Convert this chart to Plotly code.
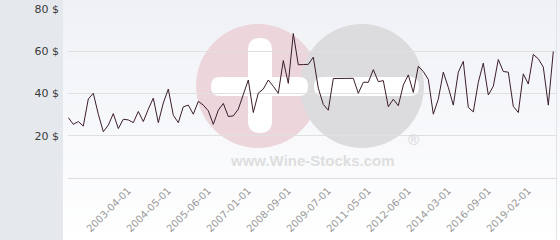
import plotly.graph_objects as go

dates = [
    "2001-07-01", "2001-09-01", "2001-10-01", "2001-12-01", "2002-01-01", "2002-03-01",
    "2002-04-01", "2002-06-01", "2002-08-01", "2002-09-01", "2002-11-01", "2003-01-01",
    "2003-04-01", "2003-05-01", "2003-07-01", "2003-08-01", "2003-10-01", "2003-11-01",
    "2004-01-01", "2004-03-01", "2004-05-01", "2004-06-01", "2004-08-01", "2004-09-01",
    "2004-11-01", "2005-01-01", "2005-02-01", "2005-04-01", "2005-06-01", "2005-08-01",
    "2005-11-01", "2006-01-01", "2006-03-01", "2006-05-01", "2006-08-01", "2006-10-01",
    "2007-01-01", "2007-03-01", "2007-06-01", "2007-08-01", "2007-11-01", "2008-01-01",
    "2008-04-01", "2008-06-01", "2008-09-01", "2008-10-01", "2008-11-01", "2009-01-01",
    "2009-02-01", "2009-03-01", "2009-04-01", "2009-06-01", "2009-07-01", "2009-10-01",
    "2010-01-01", "2010-03-01", "2010-06-01", "2010-09-01", "2010-11-01", "2011-02-01",
    "2011-05-01", "2011-07-01", "2011-08-01", "2011-10-01", "2011-12-01", "2012-01-01",
    "2012-03-01", "2012-04-01", "2012-06-01", "2012-09-01", "2012-12-01", "2013-02-01",
    "2013-05-01", "2013-07-01", "2013-10-01", "2013-12-01", "2014-03-01", "2014-07-01",
    "2014-11-01", "2015-03-01", "2015-06-01", "2015-10-01", "2016-02-01", "2016-05-01",
    "2016-09-01", "2017-01-01", "2017-04-01", "2017-08-01", "2017-12-01", "2018-03-01",
    "2018-07-01", "2018-10-01", "2019-02-01", "2019-06-01", "2019-10-01", "2020-01-01",
    "2020-05-01", "2020-09-01",
]

prices = [
    28.6, 25.4, 26.7, 24.6, 37.4, 40.1, 30.2, 21.9, 25.0, 30.5,
    23.4, 27.8, 27.5, 26.2, 31.5, 26.7, 32.6, 37.8, 26.2, 35.5,
    42.1, 29.7, 26.2, 33.7, 34.5, 30.2, 36.3, 34.5, 31.8, 25.4,
    32.1, 35.3, 29.1, 29.4, 32.6, 39.0, 46.4, 31.0, 40.2, 42.1,
    46.4, 43.4, 40.1, 55.6, 44.8, 68.4, 53.6, 53.7, 53.8,
    57.2, 42.5, 34.8, 32.1, 47.1, 47.2, 47.2, 47.2, 47.2, 40.1,
    45.3, 45.3, 51.3, 45.6, 46.1, 33.7, 37.3, 34.2, 44.0, 48.8,
    40.5, 52.9, 50.4, 46.7, 30.2, 37.3, 50.1, 42.9, 34.5, 50.1,
    55.2, 33.4, 31.3, 45.3, 54.4, 39.3, 43.4, 56.1, 50.4, 50.1,
    33.9, 31.0, 49.3, 44.5, 58.5, 56.4, 52.5, 34.5, 59.9,
]

tick_labels = [
    "2003-04-01", "2004-05-01", "2005-06-01", "2007-01-01", "2008-09-01", "2009-07-01",
    "2011-05-01", "2012-06-01", "2014-03-01", "2016-09-01", "2019-02-01",
]
y_ticks = [20, 40, 60, 80]
y_tick_text = ["20 $", "40 $", "60 $", "80 $"]

W, H = 560, 240
L, R, T, B = 68, 4, 9, 62
PW = W - L - R
PH = H - T - B


def px(x):
    return (x - L) / PW


def py(y):
    return (H - B - y) / PH


shapes = []
# vertical background gradient (top bluish -> bottom white)
n = 24
top_c = (239, 241, 246)
bot_c = (255, 255, 255)
for i in range(n):
    y0 = H * i / n
    y1 = H * (i + 1) / n
    t = (i + 0.5) / n
    c = tuple(int(round(top_c[k] + (bot_c[k] - top_c[k]) * t)) for k in range(3))
    shapes.append(dict(type="rect", xref="paper", yref="paper", x0=px(63), x1=px(W),
                       y0=py(y1), y1=py(y0), fillcolor="rgb(%d,%d,%d)" % c,
                       line=dict(width=0), layer="below"))
# left panel
shapes.append(dict(type="rect", xref="paper", yref="paper", x0=px(0), x1=px(63),
                   y0=py(H), y1=py(0), fillcolor="#e5e9ed", line=dict(width=0), layer="below"))
# right border line
shapes.append(dict(type="line", xref="paper", yref="paper", x0=px(556.5), x1=px(556.5),
                   y0=py(H), y1=py(0), line=dict(color="#e2e4e8", width=1), layer="below"))

# watermark circles
shapes.append(dict(type="circle", xref="paper", yref="paper", x0=px(196), x1=px(320),
                   y0=py(148), y1=py(24), fillcolor="#ecd5db", line=dict(width=0), layer="below"))
shapes.append(dict(type="circle", xref="paper", yref="paper", x0=px(300), x1=px(424),
                   y0=py(148), y1=py(24), fillcolor="#dcdcde", line=dict(width=0), layer="below"))


def rrect(x0, y0, x1, y1, r):
    pts = [
        (x0 + r, y0), (x1 - r, y0), (x1, y0), (x1, y0 + r), (x1, y1 - r), (x1, y1),
        (x1 - r, y1), (x0 + r, y1), (x0, y1), (x0, y1 - r), (x0, y0 + r), (x0, y0), (x0 + r, y0),
    ]
    P = [(px(a), py(b)) for a, b in pts]
    s = "M %f,%f L %f,%f Q %f,%f %f,%f L %f,%f Q %f,%f %f,%f L %f,%f Q %f,%f %f,%f L %f,%f Q %f,%f %f,%f Z" % (
        P[0] + P[1] + P[2] + P[3] + P[4] + P[5] + P[6] + P[7] + P[8] + P[9] + P[10] + P[11] + P[12])
    return s


for (a, b, c, d, r) in [(248, 38, 272, 133, 12), (211, 77, 308, 96, 9), (314, 77, 419, 96, 9)]:
    shapes.append(dict(type="path", xref="paper", yref="paper", path=rrect(a, b, c, d, r),
                       fillcolor="#ffffff", line=dict(width=0), layer="below"))

annotations = [
    dict(text="<b>www.Wine-Stocks.com</b>", xref="paper", yref="paper", x=px(312), y=py(160.5),
         showarrow=False, font=dict(family="Liberation Sans, Arial", size=15, color="#dedede"),
         xanchor="center", yanchor="middle"),
    dict(text="®", xref="paper", yref="paper", x=px(413), y=py(139), showarrow=False,
         font=dict(family="Liberation Sans, Arial", size=15, color="#d6d6d8"),
         xanchor="center", yanchor="middle"),
]

fig = go.Figure()
fig.add_trace(go.Scatter(
    x=dates, y=prices, mode="lines",
    line=dict(color="#3b1d2c", width=1),
    hoverinfo="skip", showlegend=False,
))

fig.update_layout(
    width=W, height=H,
    margin=dict(l=L, r=R, t=T, b=B, pad=0, autoexpand=False),
    paper_bgcolor="#ffffff",
    plot_bgcolor="rgba(0,0,0,0)",
    shapes=shapes,
    annotations=annotations,
    showlegend=False,
    xaxis=dict(
        type="category",
        range=[-0.06, len(dates) - 1 + 0.54],
        tickmode="array", tickvals=tick_labels, ticktext=tick_labels,
        tickangle=-45, automargin=False,
        showgrid=False, zeroline=False,
        showline=True, linecolor="#dddddd", linewidth=1,
        ticks="", ticklabelstandoff=2,
        tickfont=dict(family="DejaVu Sans", size=10, color="#999999"),
    ),
    yaxis=dict(
        range=[0, 80], automargin=False,
        tickmode="array", tickvals=y_ticks, ticktext=y_tick_text,
        showgrid=True, gridcolor="#e0e0e0", gridwidth=1,
        zeroline=False, showline=False, ticks="",
        ticklabelstandoff=8,
        tickfont=dict(family="DejaVu Sans", size=11, color="#3a3a3a"),
    ),
)

fig.write_html("out.html")
